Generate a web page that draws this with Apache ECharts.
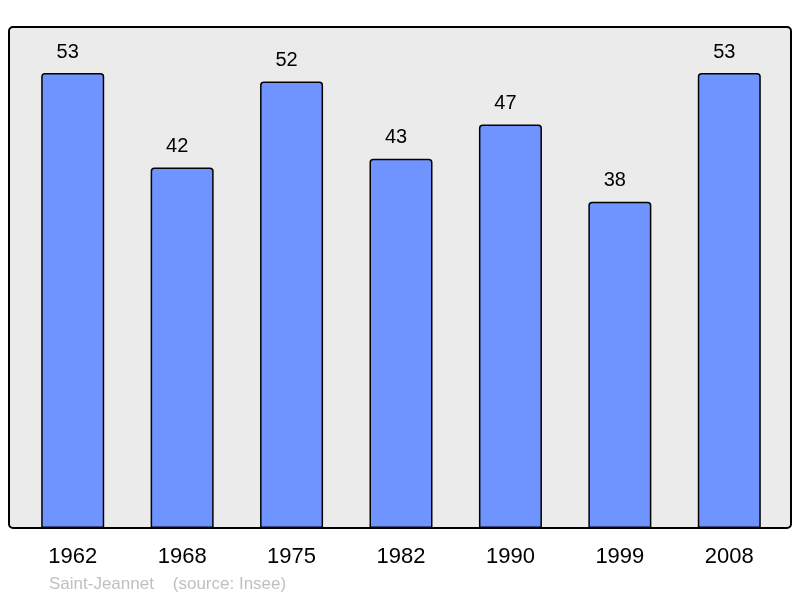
<!DOCTYPE html>
<html>
<head>
<meta charset="utf-8">
<script src="https://cdn.jsdelivr.net/npm/echarts@6/dist/echarts.min.js"></script>
<style>
html, body { margin: 0; padding: 0; background: #fff; }
#chart { width: 800px; height: 598px; }
</style>
</head>
<body>
<div id="chart"></div>
<script>
var years = ['1962', '1968', '1975', '1982', '1990', '1999', '2008'];
var population = [53, 42, 52, 43, 47, 38, 53];
var footer = 'Saint-Jeannet    (source: Insee)';

var chart = echarts.init(document.getElementById('chart'));

var option = {
	backgroundColor: '#ffffff',
	animation: false,
	grid: {
		left: 18,
		top: 27,
		width: 766,
		height: 501
	},
	graphic: [{
		type: 'rect',
		z: -10,
		shape: { x: 9, y: 27, width: 782, height: 501, r: 4 },
		style: { fill: '#ebebeb', stroke: '#000000', lineWidth: 2 }
	}, {
		type: 'text',
		left: 49,
		top: 576,
		style: {
			text: footer,
			fill: '#c0c0c0',
			fontSize: 17,
			fontFamily: 'Liberation Sans'
		}
	}],
	xAxis: {
		type: 'category',
		data: years,
		axisLine: { show: false },
		axisTick: { show: false },
		axisLabel: {
			color: '#000000',
			fontSize: 22,
			fontFamily: 'Liberation Sans',
			margin: 18
		}
	},
	yAxis: {
		type: 'value',
		min: 0,
		max: 58.36,
		show: false,
		splitLine: { show: false }
	},
	series: [{
		type: 'bar',
		data: population,
		barWidth: 63,
		itemStyle: {
			color: '#7094ff',
			borderColor: '#000000',
			borderWidth: 1.5,
			borderRadius: [3, 3, 0, 0]
		},
		label: {
			show: true,
			position: 'top',
			distance: 11,
			offset: [-5, 0],
			color: '#000000',
			fontSize: 20,
			fontFamily: 'Liberation Sans'
		}
	}]
};

chart.setOption(option);
</script>
</body>
</html>
